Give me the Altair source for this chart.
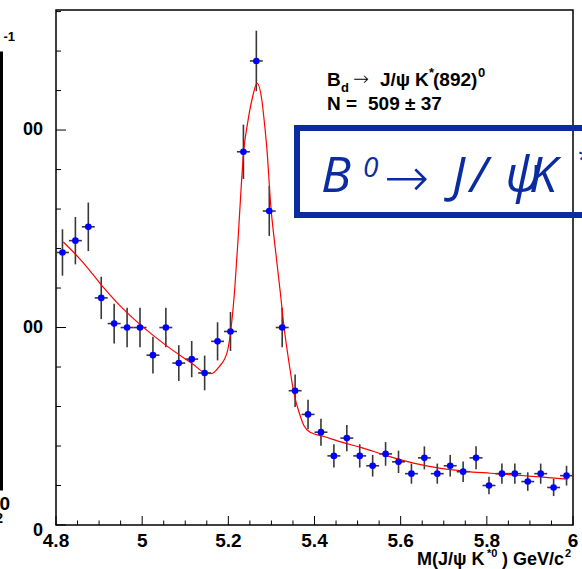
import altair as alt
import pandas as pd

# Histogram of M(J/psi K*0): bin centres (GeV/c^2) and entries per 30 MeV bin
bin_center = [4.815, 4.845, 4.875, 4.905, 4.935, 4.965, 4.995, 5.025, 5.055, 5.085,
              5.115, 5.145, 5.175, 5.205, 5.235, 5.265, 5.295, 5.325, 5.355, 5.385,
              5.415, 5.445, 5.475, 5.505, 5.535, 5.565, 5.595, 5.625, 5.655, 5.685,
              5.715, 5.745, 5.775, 5.805, 5.835, 5.865, 5.895, 5.925, 5.955, 5.985]
counts = [138, 144, 151, 115, 102, 100, 100, 86, 100, 82,
          84, 77, 93, 98, 189, 235, 159, 100, 68, 56,
          47, 35, 44, 35, 30, 36, 32, 26, 34, 26,
          30, 27, 34, 20, 26, 26, 22, 26, 19, 25]

# Fitted signal + background curve
fit_x = [4.817, 4.863, 4.906, 4.953, 4.997, 5.057, 5.118, 5.147, 5.160, 5.178,
         5.197, 5.206, 5.215, 5.2226, 5.2295, 5.2356, 5.2449, 5.2551, 5.2667, 5.2775,
         5.2837, 5.2900, 5.298, 5.309, 5.320, 5.330, 5.341, 5.352, 5.367, 5.375,
         5.391, 5.422, 5.453, 5.509, 5.569, 5.630, 5.689, 5.750, 5.809, 5.870,
         5.930, 5.988]
fit_y = [143.3, 132.9, 121.4, 110.1, 101.2, 90.7, 81.4, 77.0, 76.7, 80.0,
         87.3, 99.0, 120.0, 144.7, 170.0, 189.1, 203.8, 215.6, 223.7, 215.6,
         203.8, 189.1, 163.0, 140.0, 119.0, 99.0, 82.0, 67.0, 55.2, 50.5,
         46.8, 44.8, 42.6, 39.2, 35.0, 31.3, 28.8, 27.2, 26.2, 25.2,
         24.2, 23.2]

# Axis ticks and labels
x_major = [4.8, 5.0, 5.2, 5.4, 5.6, 5.8, 6.0]
x_labels = ["4.8", "5", "5.2", "5.4", "5.6", "5.8", "6"]
x_minor = [4.85, 4.9, 4.95, 5.05, 5.1, 5.15, 5.25, 5.3, 5.35, 5.45, 5.5, 5.55,
           5.65, 5.7, 5.75, 5.85, 5.9, 5.95]
y_major = [0, 100, 200]
y_labels = ["0", "100", "200"]
y_minor = [20, 40, 60, 80, 120, 140, 160, 180, 220, 240, 260]

W, H = 517, 515
FONT = "Liberation Sans"
BLUE = "#0a2ca0"

xs = alt.Scale(domain=[4.8, 6.0], nice=False, zero=False)
ys = alt.Scale(domain=[0, 260.8], nice=False, zero=False)

hist = pd.DataFrame({"x": bin_center, "n": counts})
fit = pd.DataFrame({"fx": fit_x, "fy": fit_y})
one = pd.DataFrame({"k": [0]})

base = alt.Chart(hist).transform_calculate(
    lo="datum.n - sqrt(datum.n)", hi="datum.n + sqrt(datum.n)",
    xl="datum.x - 0.015", xr="datum.x + 0.015")

err_v = base.mark_rule(color="#383838", strokeWidth=1.6).encode(
    x=alt.X("x:Q", scale=xs, axis=None),
    y=alt.Y("lo:Q", scale=ys, axis=None), y2="hi:Q")
err_h = base.mark_rule(color="#383838", strokeWidth=1.6).encode(
    x=alt.X("xl:Q", scale=xs, axis=None), x2="xr:Q",
    y=alt.Y("n:Q", scale=ys, axis=None))
curve = alt.Chart(fit).mark_line(color="#ff0000", strokeWidth=1.2,
                                 interpolate="monotone").encode(
    x=alt.X("fx:Q", scale=xs, axis=None),
    y=alt.Y("fy:Q", scale=ys, axis=None))
pts = alt.Chart(hist).mark_circle(color="#0000ff", opacity=1, size=44).encode(
    x=alt.X("x:Q", scale=xs, axis=None),
    y=alt.Y("n:Q", scale=ys, axis=None))

# Inward ticks (ROOT style)
def xticks(vals, length):
    return alt.Chart(pd.DataFrame({"t": vals})).mark_rule(color="black", strokeWidth=1).encode(
        x=alt.X("t:Q", scale=xs, axis=None), y=alt.value(H), y2=alt.value(H - length))

def yticks(vals, length):
    return alt.Chart(pd.DataFrame({"t": vals})).mark_rule(color="black", strokeWidth=1).encode(
        y=alt.Y("t:Q", scale=ys, axis=None), x=alt.value(0), x2=alt.value(length))

xlab = alt.Chart(pd.DataFrame({"t": x_major, "s": x_labels})).mark_text(
    font=FONT, fontWeight="bold", fontSize=19, baseline="alphabetic", align="center",
    color="black").encode(
    x=alt.X("t:Q", scale=xs, axis=None), y=alt.value(H + 22), text="s:N")

ylab_src = alt.Chart(pd.DataFrame({"t": y_major, "s": y_labels}))
ylab_hi = ylab_src.transform_filter("datum.t > 0").mark_text(
    font=FONT, fontWeight="bold", fontSize=18, baseline="middle", align="right",
    color="black").encode(
    y=alt.Y("t:Q", scale=ys, axis=None), x=alt.value(-13), text="s:N")
ylab_0 = ylab_src.transform_filter("datum.t == 0").mark_text(
    font=FONT, fontWeight="bold", fontSize=18, baseline="middle", align="right",
    color="black", dy=6).encode(
    y=alt.Y("t:Q", scale=ys, axis=None), x=alt.value(-13), text="s:N")


def txt(s, x, y, size, weight="bold", font=FONT, color="black", style="normal",
        align="left"):
    return alt.Chart(one).mark_text(
        text=s, font=font, fontSize=size, fontWeight=weight, fontStyle=style,
        color=color, align=align, baseline="alphabetic").encode(
        x=alt.value(x), y=alt.value(y))


# Neighbouring panel partly covering the left margin
cover = alt.Chart(one).mark_rect(color="white").encode(
    x=alt.value(-70), x2=alt.value(-33), y=alt.value(90), y2=alt.value(350))
side_box = alt.Chart(one).mark_rect(filled=False, stroke="black", strokeWidth=3).encode(
    x=alt.value(-90), x2=alt.value(-54.5), y=alt.value(43), y2=alt.value(479))
side_txt = [
    txt("-1", -52.5, 30.5, 13),
    txt("0", -46, 500, 19, align="right"),
    txt("2", -53, 513, 14, align="right"),
]

# Axis title with superscripts
title = [
    txt("M(J/\u03c8 K", 361, 555, 18),
    txt("*0", 431, 547, 11),
    txt(") GeV/c", 446, 555, 18),
    txt("2", 509, 547, 11),
]

# Fit result legend
legend = [
    txt("B", 271, 76, 19),
    txt("d", 285, 82, 13),
    txt("\u2192", 297, 75, 19, weight=200, font="DejaVu Sans"),
    txt("J/\u03c8", 324, 76, 19),
    txt("K", 359, 76, 19),
    txt("*", 373, 67, 13),
    txt("(892)", 377, 76, 19),
    txt("0", 422, 67, 13),
    txt("N =", 271, 99.5, 19),
    txt("509 \u00b1 37", 312, 99.5, 19),
]

# Decay label in a blue frame
dbox = alt.Chart(one).mark_rect(filled=False, stroke=BLUE, strokeWidth=6).encode(
    x=alt.value(241), x2=alt.value(560), y=alt.value(118), y2=alt.value(205))
decay = [
    txt("B", 265, 182, 50, weight="normal", font="Open Sans", color=BLUE, style="italic"),
    txt("0", 307, 167, 28, weight="normal", font="Open Sans", color=BLUE, style="italic"),
    txt("\u2192", 328, 186, 54, weight=200, font="DejaVu Sans", color=BLUE),
    txt("J", 396, 182, 50, weight="normal", font="Open Sans", color=BLUE, style="italic"),
    txt("/", 414, 182, 50, weight="normal", font="Open Sans", color=BLUE, style="italic"),
    txt("\u03c8", 449, 182, 50, weight="normal", font="Open Sans", color=BLUE, style="italic"),
    txt("K", 473, 182, 50, weight="normal", font="Open Sans", color=BLUE, style="italic"),
    txt("*", 520, 160, 28, weight="normal", font="Open Sans", color=BLUE, style="italic"),
]

layers = [ylab_hi, ylab_0, cover, side_box, *side_txt,
          err_v, err_h, curve, pts,
          xticks(x_minor, 4.5), xticks(x_major, 9), yticks(y_minor, 5), yticks(y_major, 10),
          xlab, *title, *legend, dbox, *decay]

chart = alt.layer(*layers).properties(
    width=W, height=H,
    padding={"left": 56, "top": 10, "right": 9, "bottom": 44},
    autosize="none",
    background="white",
).configure_view(stroke="black", strokeWidth=1.5)

chart.save("out.html", embed_options={"renderer": "svg", "actions": False})
